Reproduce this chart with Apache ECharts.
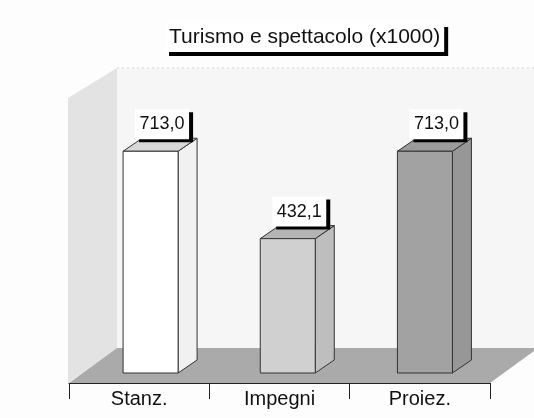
<!DOCTYPE html>
<html>
<head>
<meta charset="utf-8">
<script src="https://cdn.jsdelivr.net/npm/echarts@6/dist/echarts.min.js"></script>
<style>
  html, body { margin: 0; padding: 0; background: #fdfdfd; }
  #main { width: 534px; height: 418px; }
</style>
</head>
<body>
<div id="main"></div>
<script>
var categories = ['Stanz.', 'Impegni', 'Proiez.'];
var values = [713.0, 432.1, 713.0];

// front / side / top shade for each bar
var shades = [
  ['#ffffff', '#f1f1f1', '#d8d8d8'],
  ['#d0d0d0', '#bebebe', '#b4b4b4'],
  ['#a2a2a2', '#979797', '#9b9b9b']
];
var font = '"Liberation Sans", Arial, sans-serif';

function renderScene(params, api) {
  var cs = params.coordSys;
  var x0 = cs.x, x1 = cs.x + cs.width, yt = cs.y, yb = cs.y + cs.height;
  var dx = 48, dy = -35;
  var w = api.getWidth();
  return {
    type: 'group',
    children: [
      { type: 'rect', shape: { x: x0 + dx, y: yt, width: w - x0 - dx, height: yb + dy - yt },
        style: { fill: '#f6f6f6' } },
      { type: 'line', shape: { x1: x0 + dx, y1: yt, x2: w, y2: yt },
        style: { stroke: '#d6d6d6', lineWidth: 1, lineDash: [2, 3] } },
      { type: 'polygon', shape: { points: [[x0 - 1, yt + 30], [x0 + dx, yt], [x0 + dx, yb + dy], [x0 - 1, yb]] },
        style: { fill: '#e3e3e3' } },
      { type: 'polygon', shape: { points: [[x0, yb], [x0 + dx, yb + dy], [x1 + dx, yb + dy], [x1, yb]] },
        style: { fill: '#aaaaaa' } }
    ]
  };
}

function renderBar(params, api) {
  var i = api.value(0), v = api.value(1);
  var base = api.coord([i, 0]), top = api.coord([i, v]);
  var hw = 27.5, dx = 19, dy = -13;
  var xl = base[0] - hw, xr = base[0] + hw, yt = top[1], yb = base[1];
  var c = shades[i];
  var lbl = v.toFixed(1).replace('.', ',');
  var cx = base[0] + dx / 2 + 2, by = yt + dy + 1;
  var bw = 54, bh = 30;
  return {
    type: 'group',
    children: [
      { type: 'polygon', shape: { points: [[xr, yt], [xr + dx, yt + dy], [xr + dx, yb + dy], [xr, yb]] },
        style: { fill: c[1], stroke: '#333', lineWidth: 1 } },
      { type: 'polygon', shape: { points: [[xl, yt], [xl + dx, yt + dy], [xr + dx, yt + dy], [xr, yt]] },
        style: { fill: c[2], stroke: '#333', lineWidth: 1 } },
      { type: 'rect', shape: { x: xl, y: yt, width: 2 * hw, height: yb - yt },
        style: { fill: c[0], stroke: '#333', lineWidth: 1 } },
      { type: 'rect', shape: { x: cx - bw / 2 + 4, y: by - bh + 3, width: bw, height: bh },
        style: { fill: '#000' } },
      { type: 'rect', shape: { x: cx - bw / 2, y: by - bh, width: bw, height: bh },
        style: { fill: '#fff' } },
      { type: 'text', style: { text: lbl, x: cx, y: by - bh / 2, align: 'center', verticalAlign: 'middle',
        fill: '#111', font: '18px ' + font } }
    ]
  };
}

var chart = echarts.init(document.getElementById('main'));

chart.setOption({
  animation: false,
  backgroundColor: '#fdfdfd',
  textStyle: { fontFamily: font },
  title: {
    text: 'Turismo e spettacolo (x1000)',
    left: 165,
    top: 23,
    padding: [4, 4],
    backgroundColor: '#fff',
    shadowColor: '#000',
    shadowBlur: 0,
    shadowOffsetX: 4,
    shadowOffsetY: 4,
    textStyle: { fontSize: 21, fontWeight: 'normal', color: '#111', fontFamily: font }
  },
  grid: [
    { left: 69, right: 44, top: 68, bottom: 35 },
    { left: 82, right: 40.5, top: 62, bottom: 45 }
  ],
  xAxis: [{
    type: 'category',
    gridIndex: 0,
    data: categories,
    axisLine: { show: true, lineStyle: { color: '#222', width: 1 } },
    axisTick: { show: true, alignWithLabel: false, length: 16, lineStyle: { color: '#222', width: 1 } },
    axisLabel: { fontSize: 20, color: '#111', margin: 6, fontFamily: font },
    splitLine: { show: false }
  }, {
    type: 'category',
    gridIndex: 1,
    data: categories,
    show: false
  }],
  yAxis: [
    { type: 'value', gridIndex: 0, min: 0, max: 1000, show: false },
    { type: 'value', gridIndex: 1, min: 0, max: 1000, show: false }
  ],
  series: [{
    type: 'custom',
    xAxisIndex: 0,
    yAxisIndex: 0,
    silent: true,
    z: 1,
    renderItem: renderScene,
    data: [[0, 0]]
  }, {
    type: 'custom',
    xAxisIndex: 1,
    yAxisIndex: 1,
    z: 2,
    renderItem: renderBar,
    encode: { x: 0, y: 1 },
    data: values.map(function (v, i) { return [i, v]; })
  }]
});
</script>
</body>
</html>
